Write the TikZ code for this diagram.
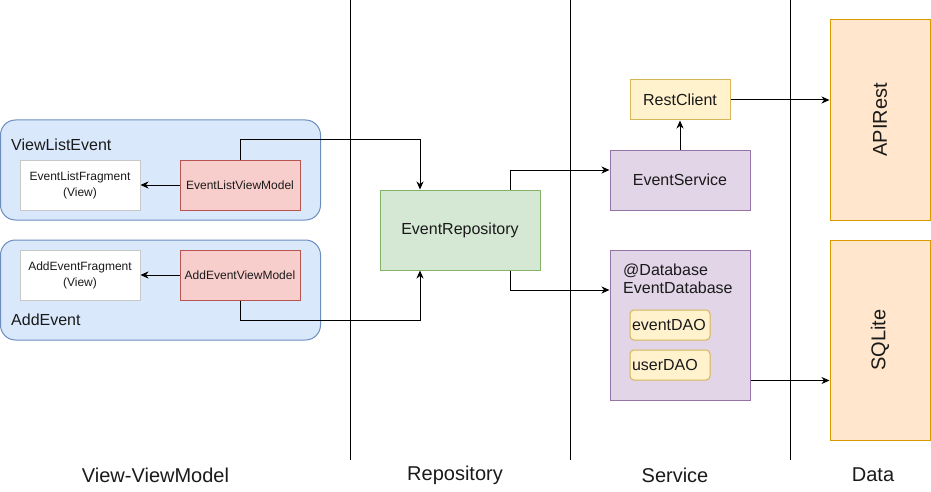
\documentclass[tikz,border=0pt]{standalone}
\usepackage{fontspec}
\setmainfont{Liberation Sans}
\usetikzlibrary{arrows.meta,calc}
\definecolor{bfill}{HTML}{DAE8FC}\definecolor{bline}{HTML}{6C8EBF}
\definecolor{rfill}{HTML}{F8CECC}\definecolor{rline}{HTML}{B85450}
\definecolor{gfill}{HTML}{D5E8D4}\definecolor{gline}{HTML}{82B366}
\definecolor{pfill}{HTML}{E1D5E7}\definecolor{pline}{HTML}{9673A6}
\definecolor{yfill}{HTML}{FFF2CC}\definecolor{yline}{HTML}{D6B656}
\definecolor{ofill}{HTML}{FFE6CC}\definecolor{oline}{HTML}{D79B00}
\definecolor{wline}{HTML}{C8C8C8}
\definecolor{txt}{HTML}{1A1A1A}
\tikzset{
  base/.style={draw, line width=1pt, inner sep=0pt, text=txt, align=center},
  cont/.style={base, fill=bfill, draw=bline, rounded corners=15pt, minimum width=320pt, minimum height=100pt},
  view/.style={base, fill=white, draw=wline, minimum width=120pt, minimum height=50pt, font=\fontsize{12}{16}\selectfont},
  vm/.style={base, fill=rfill, draw=rline, minimum width=120pt, minimum height=50pt, font=\fontsize{12}{16}\selectfont},
  repo/.style={base, fill=gfill, draw=gline, minimum width=160pt, minimum height=80pt, font=\fontsize{16}{18}\selectfont},
  serv/.style={base, fill=pfill, draw=pline, font=\fontsize{16}{18}\selectfont},
  yel/.style={base, fill=yfill, draw=yline, font=\fontsize{16}{18}\selectfont},
  dao/.style={yel, rounded corners=4pt, minimum width=80pt, minimum height=30pt, text width=76pt, align=left},
  datab/.style={base, fill=ofill, draw=oline, minimum width=100pt, minimum height=200pt, font=\fontsize{20}{22}\selectfont},
  lbl/.style={text=txt, inner sep=0pt, font=\fontsize{16}{18}\selectfont},
  col/.style={text=txt, inner sep=0pt, font=\fontsize{20}{22}\selectfont},
  arr/.style={draw=black, line width=1pt, -{Stealth[length=8pt,width=7pt,inset=2.5pt]}},
  sep/.style={draw=black, line width=1pt}
}
\begin{document}
\begin{tikzpicture}[x=1pt,y=-1pt]
\useasboundingbox (0,0) rectangle (931,492);
% separators
\draw[sep] (350,0) -- (350,460);
\draw[sep] (570,0) -- (570,460);
\draw[sep] (790,0) -- (790,460);
% containers
\node[cont] (c1) at (160.5,170) {};
\node[cont] (c2) at (160.5,290) {};
\node[lbl, anchor=west] (l1) at (11,145) {ViewListEvent};
\node[lbl, anchor=west] (l2) at (11,320) {AddEvent};
\node[view] (elf) at (80,185) {EventListFragment\\(View)};
\node[vm] (elvm) at (240,185) {EventListViewModel};
\node[view] (aef) at (80,275) {AddEventFragment\\(View)};
\node[vm] (aevm) at (240,275) {AddEventViewModel};
% repository
\node[repo] (repo) at (460,230) {EventRepository};
% service
\node[serv, minimum width=140pt, minimum height=60pt] (es) at (680,180) {EventService};
\node[yel, minimum width=100pt, minimum height=40pt] (rc) at (680,100) {RestClient};
\node[serv, minimum width=140pt, minimum height=150pt] (ed) at (680,325) {};
\node[lbl, anchor=west, align=left] (edl) at (623,279) {@Database\\EventDatabase};
\node[dao] (ed1) at (670,325) {eventDAO};
\node[dao] (ed2) at (670,365) {userDAO};
% data
\node[datab] (api) at (880,120) {\rotatebox{90}{APIRest}};
\node[datab] (sql) at (880,340) {\rotatebox{90}{SQLite}};
% column labels
\node[col] (t1) at (155.5,475) {View-ViewModel};
\node[col] (t2) at (455,475) {Repository};
\node[col] (t3) at (675,475) {Service};
\node[col] (t4) at (873,475) {Data};
% connectors
\draw[arr] (elvm) -- (elf);
\draw[arr] (aevm) -- (aef);
\draw[arr] (elvm.north) -- ++(0,-20) -| ([xshift=-40pt]repo.north);
\draw[arr] (aevm.south) -- ++(0,20) -| ([xshift=-40pt]repo.south);
\draw[arr] ([xshift=50pt]repo.north) |- ([yshift=10pt]es.west);
\draw[arr] ([xshift=50pt]repo.south) |- ([yshift=35pt]ed.west);
\draw[arr] (es.north) -- (rc.south);
\draw[arr] (rc.east) -- (api.west |- rc.east);
\coordinate (edo) at ([yshift=20pt]ed.south east);
\draw[arr] (edo) -- (sql.west |- edo);
\end{tikzpicture}
\end{document}
